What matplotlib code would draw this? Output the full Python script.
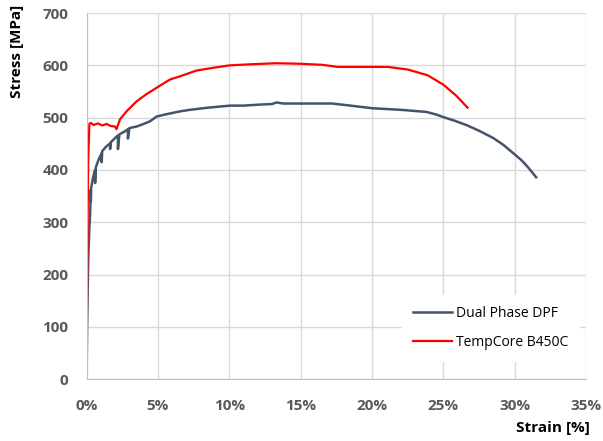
import matplotlib.pyplot as plt
from matplotlib.ticker import FuncFormatter, MultipleLocator

plt.rcParams['font.family'] = ['Open Sans', 'DejaVu Sans']

# Dual Phase DPF (strain %, stress MPa); repeated strain values are the serration drops
dpf_strain = [0.0, 0.05, 0.12, 0.2, 0.25, 0.3, 0.3, 0.32, 0.45, 0.6, 0.6, 0.65, 0.85,
              1.06, 1.06, 1.1, 1.35, 1.65, 1.65, 1.7, 2.0, 2.2, 2.2, 2.3, 2.7, 2.9, 2.9,
              3.0, 3.5, 4.0, 4.45, 4.9, 5.5, 6.55, 7.25, 8.5, 10.05, 11.0, 12.15, 13.0,
              13.3, 13.8, 15.0, 17.2, 18.5, 20.0, 22.0, 23.8, 24.5, 25.0, 25.8, 26.6,
              27.5, 28.5, 29.2, 29.9, 30.5, 31.0, 31.5]
dpf_stress = [0, 120, 230, 290, 315, 362, 340, 365, 385, 400, 375, 405, 420,
              432, 415, 436, 444, 451, 440, 453, 461, 466, 440, 468, 474, 478, 460,
              480, 483, 488, 493, 502, 506, 512, 515, 519, 523, 523, 525, 526,
              529, 527, 527, 527, 523, 518, 515, 511, 506, 501, 494, 486,
              475, 461, 448, 432, 418, 403, 386]

# TempCore B450C
tc_strain = [0.0, 0.06, 0.12, 0.2, 0.3, 0.5, 0.8, 1.1, 1.4, 1.7, 2.0, 2.1, 2.35, 2.8,
             3.5, 4.2, 4.9, 5.85, 6.55, 7.7, 8.8, 10.05, 11.5, 13.3, 15.0, 16.5,
             17.6, 19.0, 21.1, 22.5, 23.9, 25.0, 25.9, 26.7]
tc_stress = [0, 250, 420, 488, 490, 486, 489, 485, 488, 484, 483, 478, 497, 512,
             531, 545, 557, 573, 579, 590, 595, 600, 602, 604, 603, 601,
             597, 597, 597, 592, 581, 563, 542, 519]

fig = plt.figure(figsize=(6.03, 4.41), dpi=100)
ax = fig.add_axes([0.1435, 0.140, 0.8285, 0.8305])

ax.plot(dpf_strain, dpf_stress, color='#44546a', lw=1.8, label='Dual Phase DPF')
ax.plot(tc_strain, tc_stress, color='#ff0000', lw=1.6, label='TempCore B450C')

ax.set_xlim(0, 35)
ax.set_ylim(0, 700)
ax.xaxis.set_major_locator(MultipleLocator(5))
ax.yaxis.set_major_locator(MultipleLocator(100))
ax.xaxis.set_major_formatter(FuncFormatter(lambda v, p: f'{v:.0f}%'))

ax.grid(True, color='#d9d9d9', lw=1)
ax.set_axisbelow(True)
for s in ['top', 'right']:
    ax.spines[s].set_visible(False)
for s in ['left', 'bottom']:
    ax.spines[s].set_color('#bfbfbf')
ax.tick_params(length=0, labelsize=11, labelcolor='#595959')
ax.tick_params(axis='x', pad=14)
ax.tick_params(axis='y', pad=13)
for lab in ax.get_xticklabels() + ax.get_yticklabels():
    lab.set_fontweight('bold')

fig.text(0.028, 0.99, 'Stress [MPa]', rotation=90, ha='center', va='top',
         fontsize=11, fontweight='bold')
fig.text(0.978, 0.03, 'Strain [%]', ha='right', va='center',
         fontsize=11, fontweight='bold')

leg = ax.legend(loc='lower right', bbox_to_anchor=(1.0, 0.03), frameon=True,
                fontsize=10, handlelength=2.8, borderpad=0.8, labelspacing=1.0,
                handletextpad=0.3)
leg.get_frame().set_edgecolor('white')
leg.get_frame().set_alpha(1)
leg.get_frame().set_boxstyle('square', pad=0)

fig.savefig('out.png', dpi=100)
